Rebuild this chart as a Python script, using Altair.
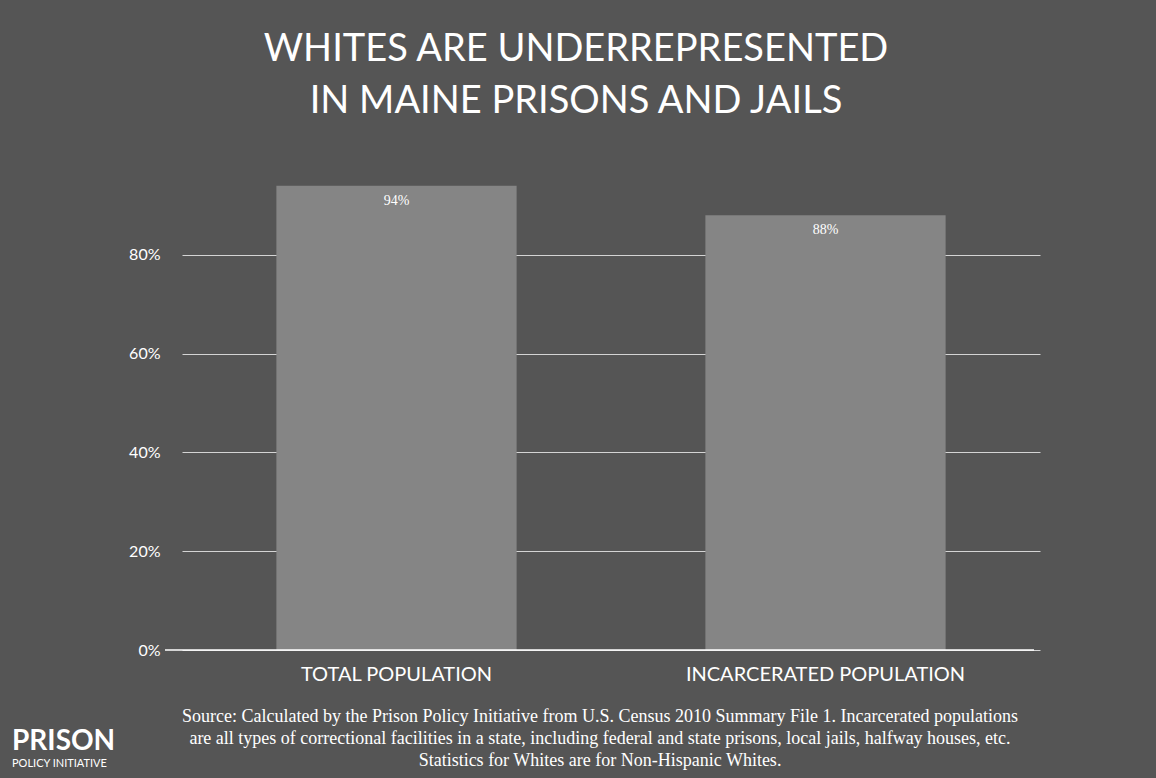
import altair as alt
import pandas as pd

categories = ["TOTAL POPULATION", "INCARCERATED POPULATION"]
values = [94, 88]
labels = ["94%", "88%"]
y_ticks = [0, 20, 40, 60, 80]

title_lines = ["WHITES ARE UNDERREPRESENTED", "IN MAINE PRISONS AND JAILS"]
source_lines = [
    "Source: Calculated by the Prison Policy Initiative from U.S. Census 2010 Summary File 1. Incarcerated populations",
    "are all types of correctional facilities in a state, including federal and state prisons, local jails, halfway houses, etc.",
    "Statistics for Whites are for Non-Hispanic Whites.",
]
logo_big = "PRISON"
logo_small = "POLICY INITIATIVE"

BG = "#555555"
BAR = "#858585"

df = pd.DataFrame({"category": categories, "value": values, "label": labels})

x = alt.X(
    "category:N",
    sort=categories,
    scale=alt.Scale(paddingInner=0.44, paddingOuter=0.22),
    axis=alt.Axis(
        title=None,
        labelAngle=0,
        labelColor="white",
        labelFont="Lato",
        labelFontSize=20,
        labelPadding=14,
        labelLimit=0,
        ticks=False,
        domain=False,
    ),
)
y = alt.Y(
    "value:Q",
    scale=alt.Scale(domain=[0, 100], nice=False),
    axis=alt.Axis(
        title=None,
        values=y_ticks,
        labelExpr="datum.value + '%'",
        labelColor="white",
        labelFont="Lato",
        labelFontSize=16,
        labelPadding=22,
        ticks=False,
        domain=False,
        grid=True,
        gridColor="white",
        gridOpacity=0.75,
        gridWidth=1,
    ),
)

bars = alt.Chart(df).mark_bar(color=BAR).encode(x=x, y=y)
text = alt.Chart(df).mark_text(
    color="white", baseline="top", dy=8, fontSize=14, font="Liberation Serif"
).encode(x=alt.X("category:N", sort=categories), y="value:Q", text="label:N")

baseline = alt.Chart(pd.DataFrame({"v": [0]})).mark_rule(color="white", strokeWidth=1.5).encode(
    y="v:Q", x=alt.value(-17), x2=alt.value(852)
)

source = alt.Chart(pd.DataFrame({"t": ["\n".join(source_lines)]})).mark_text(
    color="white", font="Liberation Serif", fontSize=18, align="center", baseline="top",
    lineBreak="\n", lineHeight=22,
).encode(x=alt.value(418), y=alt.value(552), text="t:N")

logo1 = alt.Chart(pd.DataFrame({"t": [logo_big]})).mark_text(
    color="white", font="Lato", fontWeight="bold", fontSize=28, align="left", baseline="alphabetic"
).encode(x=alt.value(-170), y=alt.value(594), text="t:N")
logo2 = alt.Chart(pd.DataFrame({"t": [logo_small]})).mark_text(
    color="white", font="Lato", fontSize=11, align="left", baseline="alphabetic"
).encode(x=alt.value(-170), y=alt.value(611), text="t:N")

chart = (
    alt.layer(bars, baseline, text, source, logo1, logo2)
    .properties(
        width=858,
        height=494,
        background=BG,
        padding={"left": 182, "top": 156, "right": 116, "bottom": 128},
        autosize=alt.AutoSizeParams(type="none"),
        title=alt.TitleParams(
            text=title_lines,
            color="white",
            font="Lato",
            fontSize=38,
            fontWeight="normal",
            lineHeight=52,
            anchor="middle",
            frame="group",
            dx=-35,
            offset=35,
        ),
    )
    .configure_view(stroke=None)
)

chart.save("out.html", embed_options={"renderer": "svg", "actions": False})
